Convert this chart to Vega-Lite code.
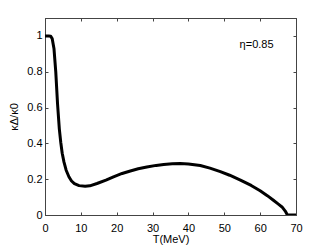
{
  "$schema": "https://vega.github.io/schema/vega-lite/v6.json",
  "width": 251,
  "height": 197,
  "autosize": {"type": "none"},
  "padding": {"left": 45, "top": 18, "right": 31, "bottom": 31},
  "config": {
    "font": "Liberation Sans",
    "view": {"stroke": "#444", "strokeWidth": 1},
    "axis": {
      "grid": false,
      "domainColor": "#444",
      "tickColor": "#444",
      "tickSize": -3,
      "labelFontSize": 11,
      "labelColor": "black",
      "labelFlush": false,
      "labelOverlap": false,
      "labelBound": false,
      "titleFontSize": 11,
      "titleFontWeight": "normal",
      "titleColor": "black"
    }
  },
  "data": {
    "values": [
      {"T": 0, "k": 1.0}, {"T": 1.0, "k": 1.0}, {"T": 1.6, "k": 0.998},
      {"T": 2.0, "k": 0.985}, {"T": 2.5, "k": 0.93}, {"T": 3.0, "k": 0.8},
      {"T": 3.5, "k": 0.62}, {"T": 4.0, "k": 0.48}, {"T": 4.4, "k": 0.405},
      {"T": 4.8, "k": 0.345}, {"T": 5.3, "k": 0.295}, {"T": 5.9, "k": 0.25},
      {"T": 6.7, "k": 0.212}, {"T": 7.4, "k": 0.19}, {"T": 8.2, "k": 0.175},
      {"T": 9.5, "k": 0.164}, {"T": 11.2, "k": 0.16}, {"T": 12.5, "k": 0.163},
      {"T": 14.5, "k": 0.176}, {"T": 17.0, "k": 0.195}, {"T": 19.1, "k": 0.213},
      {"T": 21.5, "k": 0.232}, {"T": 23.8, "k": 0.246}, {"T": 26.0, "k": 0.258},
      {"T": 28.4, "k": 0.268}, {"T": 31.0, "k": 0.277}, {"T": 33.1, "k": 0.282},
      {"T": 35.5, "k": 0.286}, {"T": 37.7, "k": 0.287}, {"T": 40.0, "k": 0.285},
      {"T": 43.3, "k": 0.276}, {"T": 46.0, "k": 0.262}, {"T": 48.9, "k": 0.242},
      {"T": 51.5, "k": 0.222}, {"T": 54.5, "k": 0.195}, {"T": 57.5, "k": 0.165},
      {"T": 60.0, "k": 0.135}, {"T": 62.0, "k": 0.108}, {"T": 63.7, "k": 0.082},
      {"T": 65.0, "k": 0.062}, {"T": 66.1, "k": 0.045}, {"T": 67.0, "k": 0.022},
      {"T": 67.6, "k": 0.0}, {"T": 70.0, "k": 0.0}
    ]
  },
  "layer": [
    {
      "mark": {"type": "line", "color": "black", "strokeWidth": 3, "strokeJoin": "round", "clip": true},
      "encoding": {
        "x": {"field": "T", "type": "quantitative", "scale": {"domain": [0, 70], "nice": false},
          "axis": {"title": "T(MeV)", "values": [0, 10, 20, 30, 40, 50, 60, 70], "labelPadding": 10, "titlePadding": 0}},
        "y": {"field": "k", "type": "quantitative", "scale": {"domain": [0, 1.1], "nice": false},
          "axis": {"title": "κΔ/κ0", "values": [0, 0.2, 0.4, 0.6, 0.8, 1], "format": "~g", "labelPadding": 6, "titlePadding": 7}}
      }
    },
    {
      "mark": {"type": "line", "opacity": 0},
      "encoding": {
        "x": {"field": "T", "type": "quantitative", "scale": {"domain": [0, 70], "nice": false},
          "axis": {"orient": "top", "title": null, "labels": false, "values": [0, 10, 20, 30, 40, 50, 60, 70]}},
        "y": {"field": "k", "type": "quantitative", "scale": {"domain": [0, 1.1], "nice": false},
          "axis": {"orient": "right", "title": null, "labels": false, "values": [0, 0.2, 0.4, 0.6, 0.8, 1]}}
      }
    },
    {
      "data": {"values": [{"T": 59, "k": 0.95, "label": "η=0.85"}]},
      "mark": {"type": "text", "fontSize": 11, "align": "center", "baseline": "middle", "color": "black"},
      "encoding": {
        "x": {"field": "T", "type": "quantitative", "axis": null},
        "y": {"field": "k", "type": "quantitative", "axis": null},
        "text": {"field": "label"}
      }
    }
  ],
  "resolve": {"axis": {"x": "independent", "y": "independent"}}
}
